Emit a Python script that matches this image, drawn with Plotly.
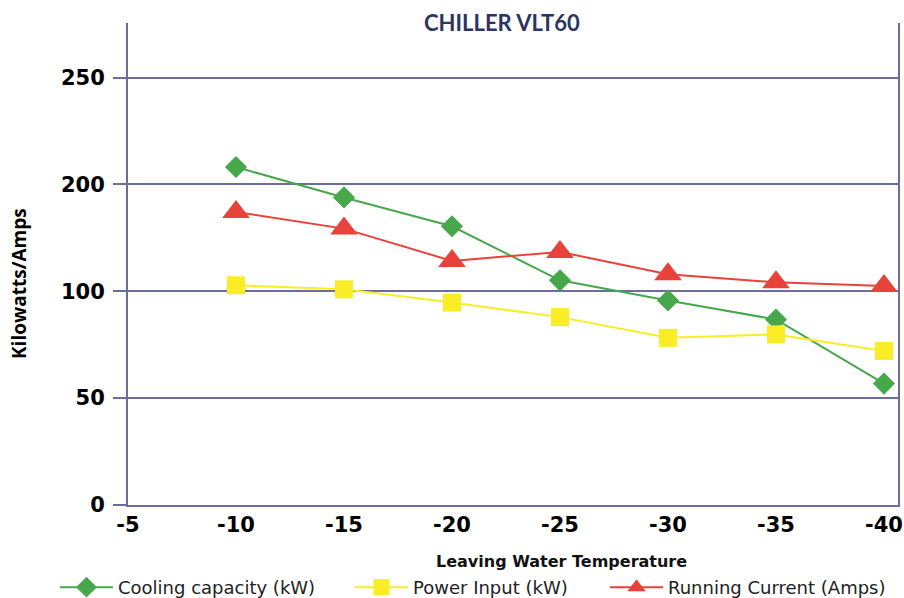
import plotly.graph_objects as go

# Data (y values in axis units; axis labels are as printed on the original chart)
temps = [-10, -15, -20, -25, -30, -35, -40]
cooling_kw = [158.1, 143.9, 130.4, 105.1, 95.7, 86.8, 56.8]
power_kw = [102.8, 100.9, 94.7, 87.9, 78.2, 79.8, 72.1]
running_amps = [137.1, 129.3, 114.2, 118.4, 108.0, 104.2, 102.4]

x_ticks = [-5, -10, -15, -20, -25, -30, -35, -40]
y_tickvals = [0, 50, 100, 150, 200]
y_ticktext = ["0", "50", "100", "200", "250"]

GRID = "#6b6e9c"
GREEN = "#47a84b"
YELLOW = "#fbed25"
RED = "#e8433b"

fig = go.Figure()
fig.add_trace(go.Scatter(
    x=temps, y=cooling_kw, name="Cooling capacity (kW)", mode="lines+markers",
    line=dict(color=GREEN, width=2), legend="legend",
    marker=dict(symbol="diamond", size=17, color=GREEN),
))
fig.add_trace(go.Scatter(
    x=temps, y=power_kw, name="Power Input (kW)", mode="lines+markers",
    line=dict(color=YELLOW, width=2), legend="legend2",
    marker=dict(symbol="square", size=18, color=YELLOW),
))
fig.add_trace(go.Scatter(
    x=temps, y=running_amps, name="Running Current (Amps)", mode="lines+markers",
    line=dict(color=RED, width=2), legend="legend3",
    marker=dict(symbol="triangle-up", size=24, color=RED),
))

L, R, T, B = 128, 6, 23, 93
W, H = 904, 598
pw = W - L - R
ph = H - T - B

def px(x):
    return (x - L) / pw

def py(y):
    return (H - B - y) / ph

def leg(xpix):
    return dict(
        orientation="h", x=px(xpix), xanchor="left", y=py(569), yanchor="top",
        font=dict(family="DejaVu Sans", size=18, color="#222222"),
        itemwidth=53, bgcolor="rgba(0,0,0,0)",
    )

fig.update_layout(
    width=W, height=H,
    margin=dict(l=L, r=R, t=T, b=B, autoexpand=False),
    paper_bgcolor="white", plot_bgcolor="white",
    showlegend=True,
    legend=leg(55), legend2=leg(350), legend3=leg(605),
    xaxis=dict(
        range=[-5, -40.65], tickvals=x_ticks, ticktext=[str(v) for v in x_ticks],
        showgrid=False, zeroline=False, showline=True, linecolor=GRID, linewidth=2,
        ticks="", automargin=False,
        tickfont=dict(family="DejaVu Sans", size=21, color="black", weight="bold"),
    ),
    yaxis=dict(
        range=[0, 225.5], tickvals=y_tickvals, ticktext=y_ticktext,
        showgrid=True, gridcolor=GRID, gridwidth=1.5, zeroline=False,
        showline=True, linecolor=GRID, linewidth=2, mirror=True,
        ticks="outside", ticklen=13, tickcolor=GRID, tickwidth=1.5,
        ticklabelstandoff=4, automargin=False,
        tickfont=dict(family="DejaVu Sans", size=21, color="black", weight="bold"),
    ),
    annotations=[
        dict(text="CHILLER VLT60", xref="paper", yref="paper", x=px(502), y=py(22),
             xanchor="center", yanchor="middle", showarrow=False,
             font=dict(family="Lato", size=22, color="#2d3462", weight="bold")),
        dict(text="Kilowatts/Amps", xref="paper", yref="paper", x=px(19), y=py(284),
             xanchor="center", yanchor="middle", showarrow=False, textangle=-90,
             font=dict(family="Open Sans", size=19, color="black", weight="bold")),
        dict(text="Leaving Water Temperature", xref="paper", yref="paper", x=px(561), y=py(561),
             xanchor="center", yanchor="middle", showarrow=False,
             font=dict(family="DejaVu Sans", size=16, color="#111111", weight="bold")),
    ],
)

fig.write_html("out.html", config={"displayModeBar": False},
               post_script="document.body.style.margin='0';")
